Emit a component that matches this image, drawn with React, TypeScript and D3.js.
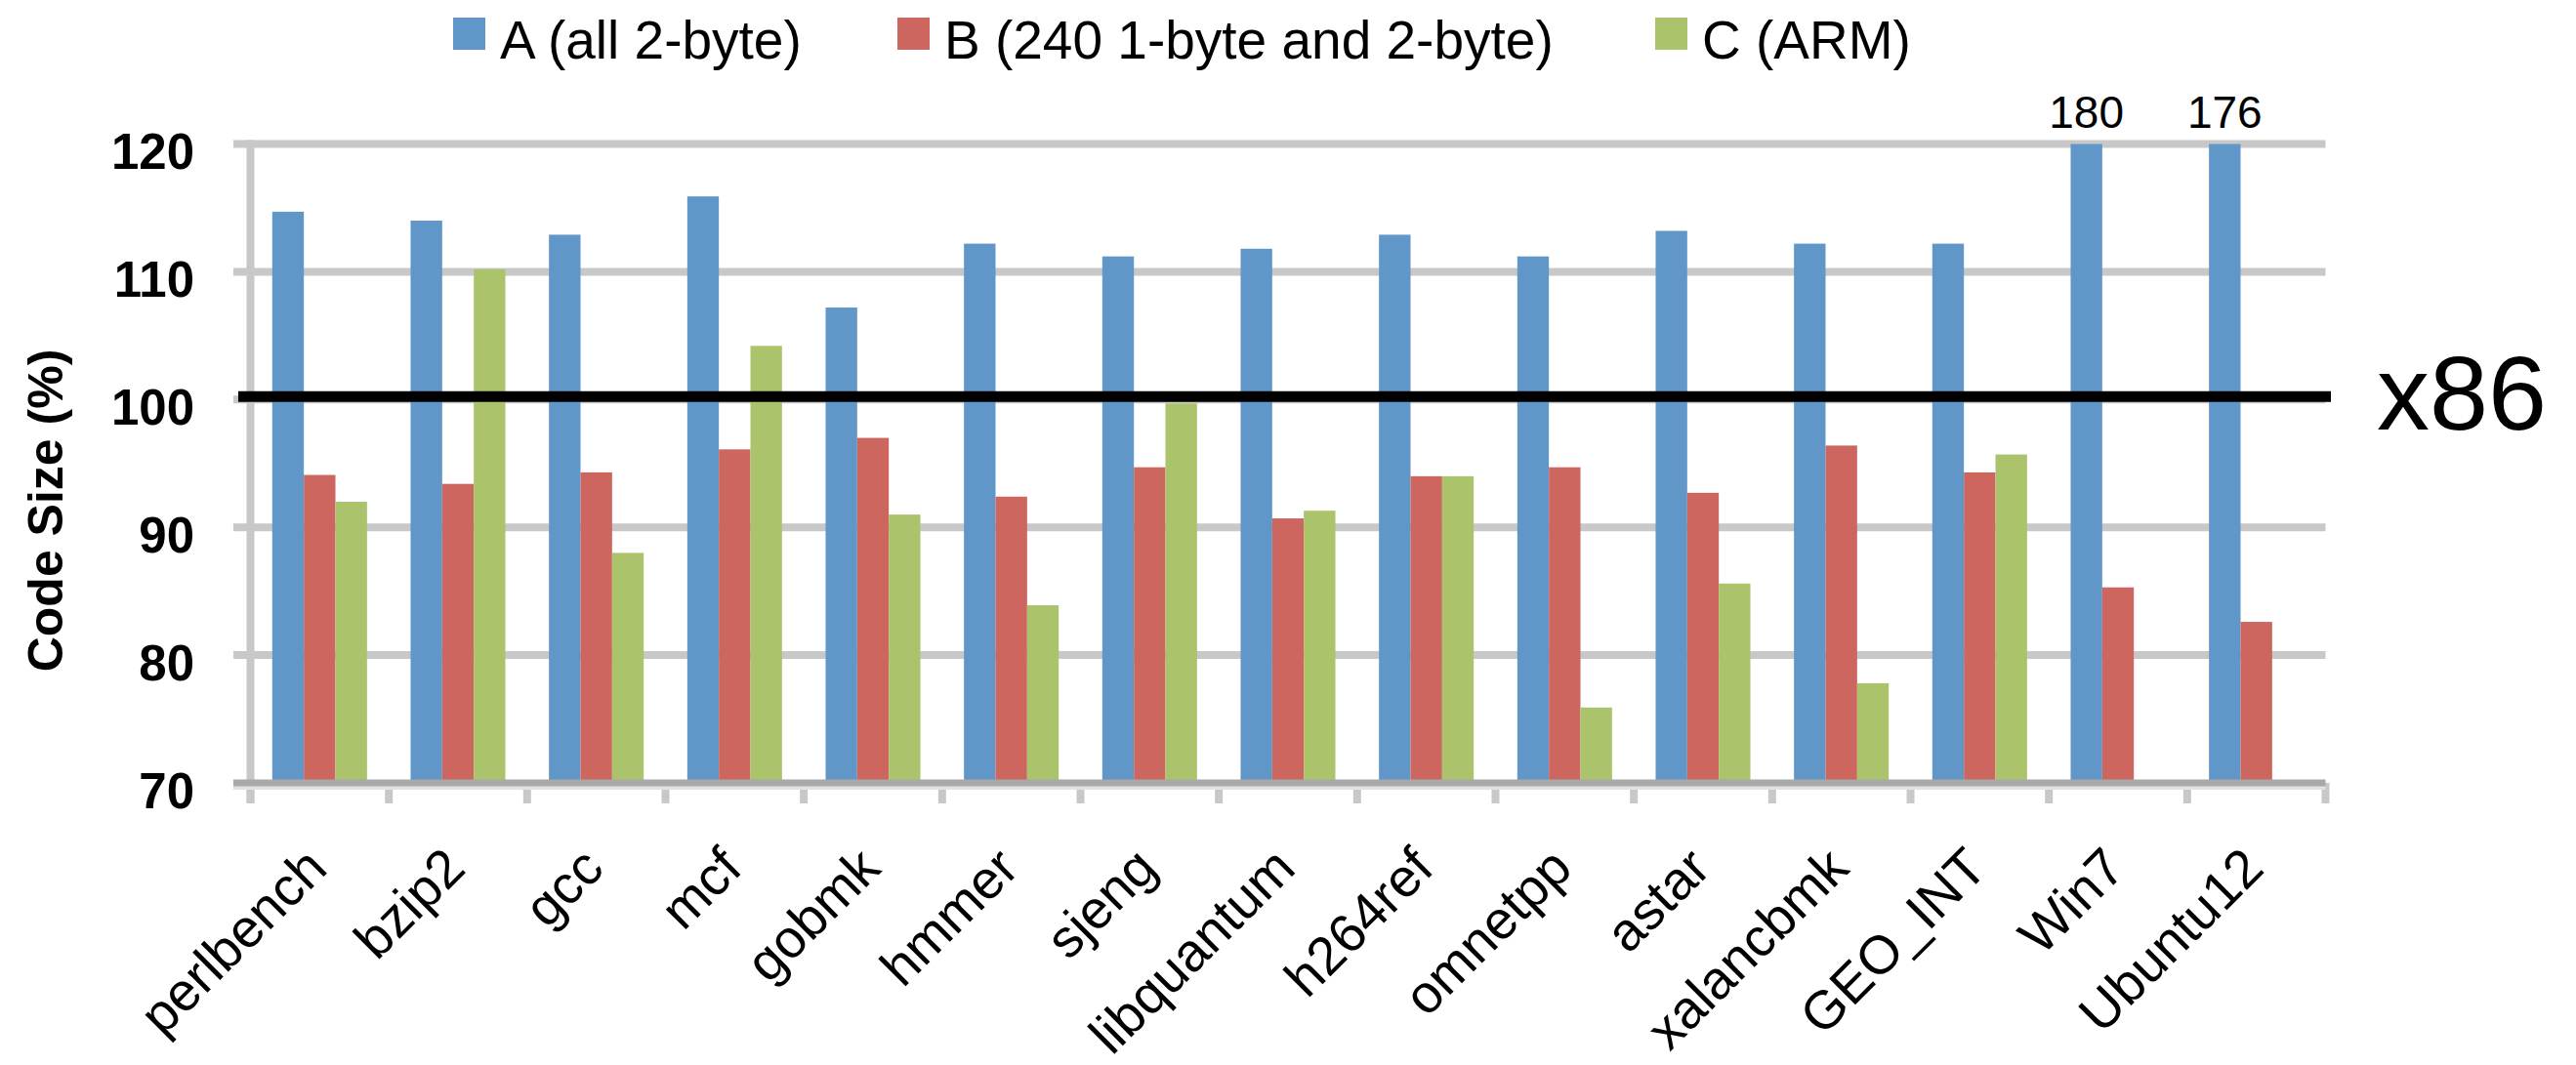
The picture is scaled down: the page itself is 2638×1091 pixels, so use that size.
import React from "react";
import * as d3 from "d3";

// Benchmarks on the category axis
const categories = [
  "perlbench", "bzip2", "gcc", "mcf", "gobmk", "hmmer", "sjeng", "libquantum",
  "h264ref", "omnetpp", "astar", "xalancbmk", "GEO_INT", "Win7", "Ubuntu12",
];

// Code size relative to x86 (%)
const seriesA = [114.7, 114.0, 112.9, 115.9, 107.2, 112.2, 111.2, 111.8, 112.9, 111.2, 113.2, 112.2, 112.2, 180, 176];
const seriesB = [94.1, 93.4, 94.3, 96.1, 97.0, 92.4, 94.7, 90.7, 94.0, 94.7, 92.7, 96.4, 94.3, 85.3, 82.6];
const seriesC: (number | null)[] = [92.0, 110.2, 88.0, 104.2, 91.0, 83.9, 99.7, 91.3, 94.0, 75.9, 85.6, 77.8, 95.7, null, null];

const seriesNames = ["A (all 2-byte)", "B (240 1-byte and 2-byte)", "C (ARM)"];
const seriesColors = ["#6196c9", "#cc665f", "#abc46b"];

const yDomain: [number, number] = [70, 120];
const yTickValues = [70, 80, 90, 100, 110, 120];
const baselineValue = 100;
const baselineLabel = "x86";
const yTitle = "Code Size (%)";

const W = 2638;
const H = 1091;
const FONT = "'Liberation Sans', Arial, sans-serif";

export default function App() {
  const left = 256.5;
  const right = 2381.5;
  const top = 147.5;
  const bottom = 802;

  const x = d3.scaleBand<string>().domain(categories).range([left, right]).padding(0);
  const inner = d3
    .scaleBand<number>()
    .domain([0, 1, 2])
    .range([0, x.bandwidth()])
    .paddingInner(0)
    .paddingOuter(0.69);
  const y = d3.scaleLinear().domain(yDomain).range([bottom, top]);

  const series = [seriesA, seriesB, seriesC];
  const gridColor = "#c8c8c8";
  const gridLeft = 239;

  const boundaries = d3.range(categories.length + 1).map((i) => left + i * x.step());

  return (
    <svg
      width={W}
      height={H}
      viewBox={`0 0 ${W} ${H}`}
      style={{ position: "absolute", left: 0, top: 0, background: "#fff" }}
    >
      <rect x={0} y={0} width={W} height={H} fill="#fff" />

      {/* Legend */}
      {seriesNames.map((name, i) => {
        const lx = [464, 919, 1695][i];
        return (
          <g key={name}>
            <rect x={lx} y={18} width={33} height={33} fill={seriesColors[i]} />
            <text x={lx + 48} y={60} fontFamily={FONT} fontSize={55} fill="#000">
              {name}
            </text>
          </g>
        );
      })}

      {/* Horizontal gridlines */}
      {yTickValues.slice(1).map((t) => (
        <line
          key={t}
          x1={gridLeft}
          x2={right}
          y1={y(t)}
          y2={y(t)}
          stroke={gridColor}
          strokeWidth={8}
        />
      ))}

      {/* Category ticks below the axis */}
      {boundaries.map((bx, i) => (
        <line key={i} x1={bx} x2={bx} y1={bottom} y2={823} stroke={gridColor} strokeWidth={8} />
      ))}

      {/* Value axis line */}
      <line x1={left} x2={left} y1={top - 4} y2={823} stroke={gridColor} strokeWidth={8} />

      {/* Bars */}
      {series.map((vals, si) =>
        vals.map((v, ci) => {
          if (v == null) return null;
          const clipped = Math.min(v, yDomain[1]);
          const bx = (x(categories[ci]) as number) + (inner(si) as number);
          return (
            <rect
              key={`${si}-${ci}`}
              x={bx}
              y={y(clipped)}
              width={inner.bandwidth()}
              height={bottom - y(clipped)}
              fill={seriesColors[si]}
            />
          );
        })
      )}

      {/* Labels for bars that run past the top of the scale */}
      {seriesA.map((v, ci) =>
        v > yDomain[1] ? (
          <text
            key={`lab-${ci}`}
            x={(x(categories[ci]) as number) + (inner(0) as number) + inner.bandwidth() / 2}
            y={131}
            textAnchor="middle"
            fontFamily={FONT}
            fontSize={46}
            fill="#000"
          >
            {v}
          </text>
        ) : null
      )}

      {/* Category axis line */}
      <line x1={gridLeft} x2={right} y1={bottom + 5} y2={bottom + 5} stroke="#e2e2e2" strokeWidth={4} />
      <line x1={gridLeft} x2={right} y1={bottom} y2={bottom} stroke="#a8a8a8" strokeWidth={7} />

      {/* x86 reference line */}
      <line
        x1={244}
        x2={2387}
        y1={y(baselineValue) - 3}
        y2={y(baselineValue) - 3}
        stroke="#000"
        strokeWidth={11}
      />
      <text x={2434} y={440} fontFamily={FONT} fontSize={108} fill="#000">
        {baselineLabel}
      </text>

      {/* Y tick labels */}
      {yTickValues.map((t) => (
        <text
          key={`yt-${t}`}
          x={199}
          y={y(t) + 25.5}
          textAnchor="end"
          fontFamily={FONT}
          fontWeight="bold"
          fontSize={51}
          fill="#000"
        >
          {t}
        </text>
      ))}

      {/* Y axis title */}
      <text
        transform={`translate(64, 523) rotate(-90)`}
        textAnchor="middle"
        fontFamily={FONT}
        fontWeight="bold"
        fontSize={50}
        fill="#000"
      >
        {yTitle}
      </text>

      {/* Category labels */}
      {categories.map((c) => (
        <text
          key={`cl-${c}`}
          transform={`translate(${(x(c) as number) + x.bandwidth() / 2 + 10}, 892) rotate(-45)`}
          textAnchor="end"
          fontFamily={FONT}
          fontSize={55}
          fill="#000"
        >
          {c}
        </text>
      ))}
    </svg>
  );
}
